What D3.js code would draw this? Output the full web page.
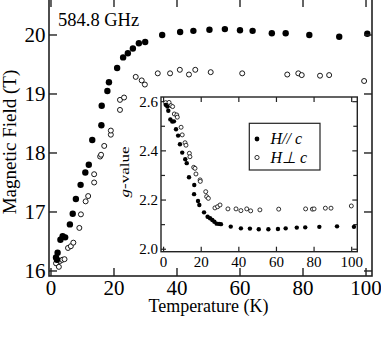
<!DOCTYPE html>
<html>
<head>
<meta charset="utf-8">
<script src="https://cdn.jsdelivr.net/npm/d3@7"></script>
<style>
  body { margin: 0; background: #fff; }
  text { font-family: "Liberation Serif", "Times New Roman", serif; fill: #000; }
</style>
</head>
<body>
<div id="chart"></div>
<script>
// main plot data: resonance field vs temperature
const parT = [1.6, 1.9, 2.1, 3.0, 3.7, 4.5, 6.0, 6.9, 7.9, 9.4, 10.9, 12.0, 13.1, 16.0, 16.1, 17.9, 18.4, 21.0, 22.9, 24.4, 26.0, 27.9, 29.9, 35.3, 41.0, 45.2, 50.3, 55.2, 60.0, 64.0, 70.1, 74.5, 82.0, 91.5, 100.4];
const parB = [16.23, 16.19, 16.31, 16.53, 16.59, 16.57, 16.79, 16.97, 17.22, 17.46, 17.67, 17.80, 18.22, 18.47, 18.80, 19.05, 19.20, 19.44, 19.62, 19.69, 19.77, 19.86, 19.88, 20.00, 20.05, 20.07, 20.09, 20.10, 20.08, 20.07, 20.03, 20.03, 20.00, 19.97, 20.02];
const perpT = [1.6, 2.5, 2.9, 3.6, 4.3, 5.4, 6.3, 7.1, 9.0, 9.5, 11.0, 11.8, 13.7, 13.7, 15.6, 15.9, 16.9, 19.0, 19.0, 21.9, 21.9, 23.2, 26.9, 28.8, 29.8, 33.9, 37.8, 40.9, 43.8, 45.8, 50.7, 60.7, 75.0, 78.5, 79.6, 85.4, 88.3, 99.4];
const perpB = [16.13, 16.07, 16.17, 16.19, 16.20, 16.39, 16.42, 16.48, 16.73, 16.96, 17.18, 17.27, 17.50, 17.64, 17.94, 17.97, 18.12, 18.31, 18.38, 18.73, 18.90, 18.94, 19.29, 19.23, 19.16, 19.35, 19.35, 19.41, 19.33, 19.41, 19.37, 19.35, 19.33, 19.35, 19.32, 19.31, 19.32, 19.22];

// inset data: g-value vs temperature
const gParT = [1.1, 2.0, 2.5, 3.6, 4.6, 5.5, 6.6, 7.7, 8.7, 9.9, 11.5, 12.3, 13.5, 16.3, 16.2, 18.3, 19.0, 21.5, 23.4, 24.7, 25.9, 27.0, 28.2, 29.5, 30.5, 35.7, 41.1, 45.9, 50.6, 55.7, 60.8, 64.9, 70.8, 75.3, 82.8, 92.2, 101.2];
const gParG = [2.587, 2.580, 2.563, 2.528, 2.519, 2.520, 2.488, 2.462, 2.427, 2.393, 2.366, 2.350, 2.293, 2.261, 2.224, 2.196, 2.180, 2.150, 2.132, 2.126, 2.119, 2.112, 2.104, 2.103, 2.102, 2.092, 2.085, 2.084, 2.081, 2.081, 2.082, 2.085, 2.088, 2.089, 2.091, 2.093, 2.091];
const gPerpT = [1.1, 2.9, 3.9, 4.8, 5.7, 7.0, 7.3, 9.3, 9.9, 11.4, 11.9, 13.7, 14.0, 16.0, 16.7, 17.2, 19.4, 19.5, 22.4, 22.9, 23.8, 27.3, 28.7, 30.0, 34.2, 38.5, 41.1, 44.2, 46.3, 51.2, 61.2, 75.5, 79.1, 80.0, 86.0, 89.0, 99.8];
const gPerpG = [2.596, 2.597, 2.584, 2.580, 2.550, 2.546, 2.537, 2.496, 2.465, 2.433, 2.423, 2.390, 2.376, 2.333, 2.329, 2.306, 2.282, 2.276, 2.234, 2.214, 2.207, 2.168, 2.173, 2.180, 2.164, 2.164, 2.157, 2.164, 2.156, 2.160, 2.163, 2.164, 2.163, 2.164, 2.167, 2.167, 2.176];

const xTicks = [0, 20, 40, 60, 80, 100];
const yTicks = [16, 17, 18, 19, 20];
const gTicks = [2.0, 2.2, 2.4, 2.6];
const gMinor = [2.1, 2.3, 2.5];
const seriesLabels = ["H// c", "H\u22A5 c"];

const W = 381, H = 360;
const svg = d3.select("#chart").append("svg")
    .attr("width", W)
    .attr("height", H);

// main scales (top edge sits just above the picture)
const x = d3.scaleLinear().domain([-0.63, 101.9]).range([49, 372]);
const y = d3.scaleLinear().domain([15.915, 20.61]).range([276, -1]);

const frameColor = "#222";

function drawFrame(g, xs, ys, lw) {
    const [x0, x1] = xs.range();
    const [y0, y1] = ys.range();
    g.append("rect")
        .attr("x", x0).attr("y", y1)
        .attr("width", x1 - x0).attr("height", y0 - y1)
        .attr("fill", "#fff")
        .attr("stroke", frameColor)
        .attr("stroke-width", lw);
}

function drawTicks(g, xs, ys, xt, yt, len, lw) {
    const [x0, x1] = xs.range();
    const [y0, y1] = ys.range();
    xt.forEach(t => {
        g.append("line").attr("x1", xs(t)).attr("x2", xs(t)).attr("y1", y0).attr("y2", y0 - len)
            .attr("stroke", frameColor).attr("stroke-width", lw);
        g.append("line").attr("x1", xs(t)).attr("x2", xs(t)).attr("y1", y1).attr("y2", y1 + len)
            .attr("stroke", frameColor).attr("stroke-width", lw);
    });
    yt.forEach(t => {
        g.append("line").attr("x1", x0).attr("x2", x0 + len).attr("y1", ys(t)).attr("y2", ys(t))
            .attr("stroke", frameColor).attr("stroke-width", lw);
        g.append("line").attr("x1", x1).attr("x2", x1 - len).attr("y1", ys(t)).attr("y2", ys(t))
            .attr("stroke", frameColor).attr("stroke-width", lw);
    });
}

// ---- main plot ----
const main = svg.append("g");
drawFrame(main, x, y, 1.6);

main.selectAll(".perp")
    .data(d3.zip(perpT, perpB))
    .enter().append("circle")
    .attr("cx", d => x(d[0])).attr("cy", d => y(d[1]))
    .attr("r", 2.5)
    .attr("fill", "#fff").attr("stroke", "#000").attr("stroke-width", 0.9);

main.selectAll(".par")
    .data(d3.zip(parT, parB))
    .enter().append("circle")
    .attr("cx", d => x(d[0])).attr("cy", d => y(d[1]))
    .attr("r", 3.2)
    .attr("fill", "#000");

// ---- inset ----
const xi = d3.scaleLinear().domain([-1.38, 102.98]).range([161, 357.3]);
const yi = d3.scaleLinear().domain([1.990, 2.619]).range([251.7, 97]);

const inset = svg.append("g");
drawFrame(inset, xi, yi, 1.4);
drawTicks(inset, xi, yi, xTicks, gTicks, 5, 1.2);
drawTicks(inset, xi, yi, [], gMinor, 4, 1.2);

inset.selectAll(".gperp")
    .data(d3.zip(gPerpT, gPerpG))
    .enter().append("circle")
    .attr("cx", d => xi(d[0])).attr("cy", d => yi(d[1]))
    .attr("r", 2.0)
    .attr("fill", "#fff").attr("stroke", "#000").attr("stroke-width", 0.8);

inset.selectAll(".gpar")
    .data(d3.zip(gParT, gParG))
    .enter().append("circle")
    .attr("cx", d => xi(d[0])).attr("cy", d => yi(d[1]))
    .attr("r", 2.2)
    .attr("fill", "#000");

// inset tick labels
inset.selectAll(".xil")
    .data(xTicks).enter().append("text")
    .attr("x", d => xi(d)).attr("y", 267)
    .attr("text-anchor", "middle")
    .style("font-size", "15px")
    .text(d => d);

inset.selectAll(".yil")
    .data(gTicks).enter().append("text")
    .attr("x", 158).attr("y", d => yi(d) + 5)
    .attr("text-anchor", "end")
    .style("font-size", "15px")
    .text(d => d.toFixed(1));

// inset y label
inset.append("text")
    .attr("transform", "translate(129,172) rotate(-90)")
    .attr("text-anchor", "middle")
    .attr("textLength", 51)
    .attr("lengthAdjust", "spacingAndGlyphs")
    .style("font-size", "13px")
    .html('<tspan font-style="italic">g</tspan>-value');

// legend
const leg = inset.append("g");
leg.append("rect")
    .attr("x", 249.3).attr("y", 123.3)
    .attr("width", 70.7).attr("height", 46.7)
    .attr("fill", "#fff").attr("stroke", frameColor).attr("stroke-width", 1.2);
leg.append("circle").attr("cx", 257).attr("cy", 139).attr("r", 2.4).attr("fill", "#000");
leg.append("circle").attr("cx", 257).attr("cy", 157.5).attr("r", 2.1)
    .attr("fill", "#fff").attr("stroke", "#000").attr("stroke-width", 0.8);
leg.selectAll(".lt")
    .data(seriesLabels).enter().append("text")
    .attr("x", 270.5).attr("y", (d, i) => 144 + i * 18.5)
    .style("font-size", "16px")
    .style("font-style", "italic")
    .text(d => d);

// main ticks drawn last so they overlay the inset labels
drawTicks(main, x, y, xTicks, yTicks, 8, 1.4);

// main tick labels
main.selectAll(".xl")
    .data(xTicks).enter().append("text")
    .attr("x", d => x(d)).attr("y", 295)
    .attr("text-anchor", "middle")
    .style("font-size", "21px")
    .text(d => d);

main.selectAll(".yl")
    .data(yTicks).enter().append("text")
    .attr("x", 45.5).attr("y", d => y(d) + 7.5)
    .attr("text-anchor", "end")
    .style("font-size", "21px")
    .text(d => d);

// axis titles
main.append("text")
    .attr("x", 208.5).attr("y", 311.5)
    .attr("text-anchor", "middle")
    .style("font-size", "18px")
    .text("Temperature (K)");

main.append("text")
    .attr("transform", "translate(15.5,142) rotate(-90)")
    .attr("text-anchor", "middle")
    .style("font-size", "19px")
    .text("Magnetic Field (T)");

main.append("text")
    .attr("x", 58).attr("y", 26)
    .style("font-size", "18.5px")
    .text("584.8 GHz");
</script>
</body>
</html>
